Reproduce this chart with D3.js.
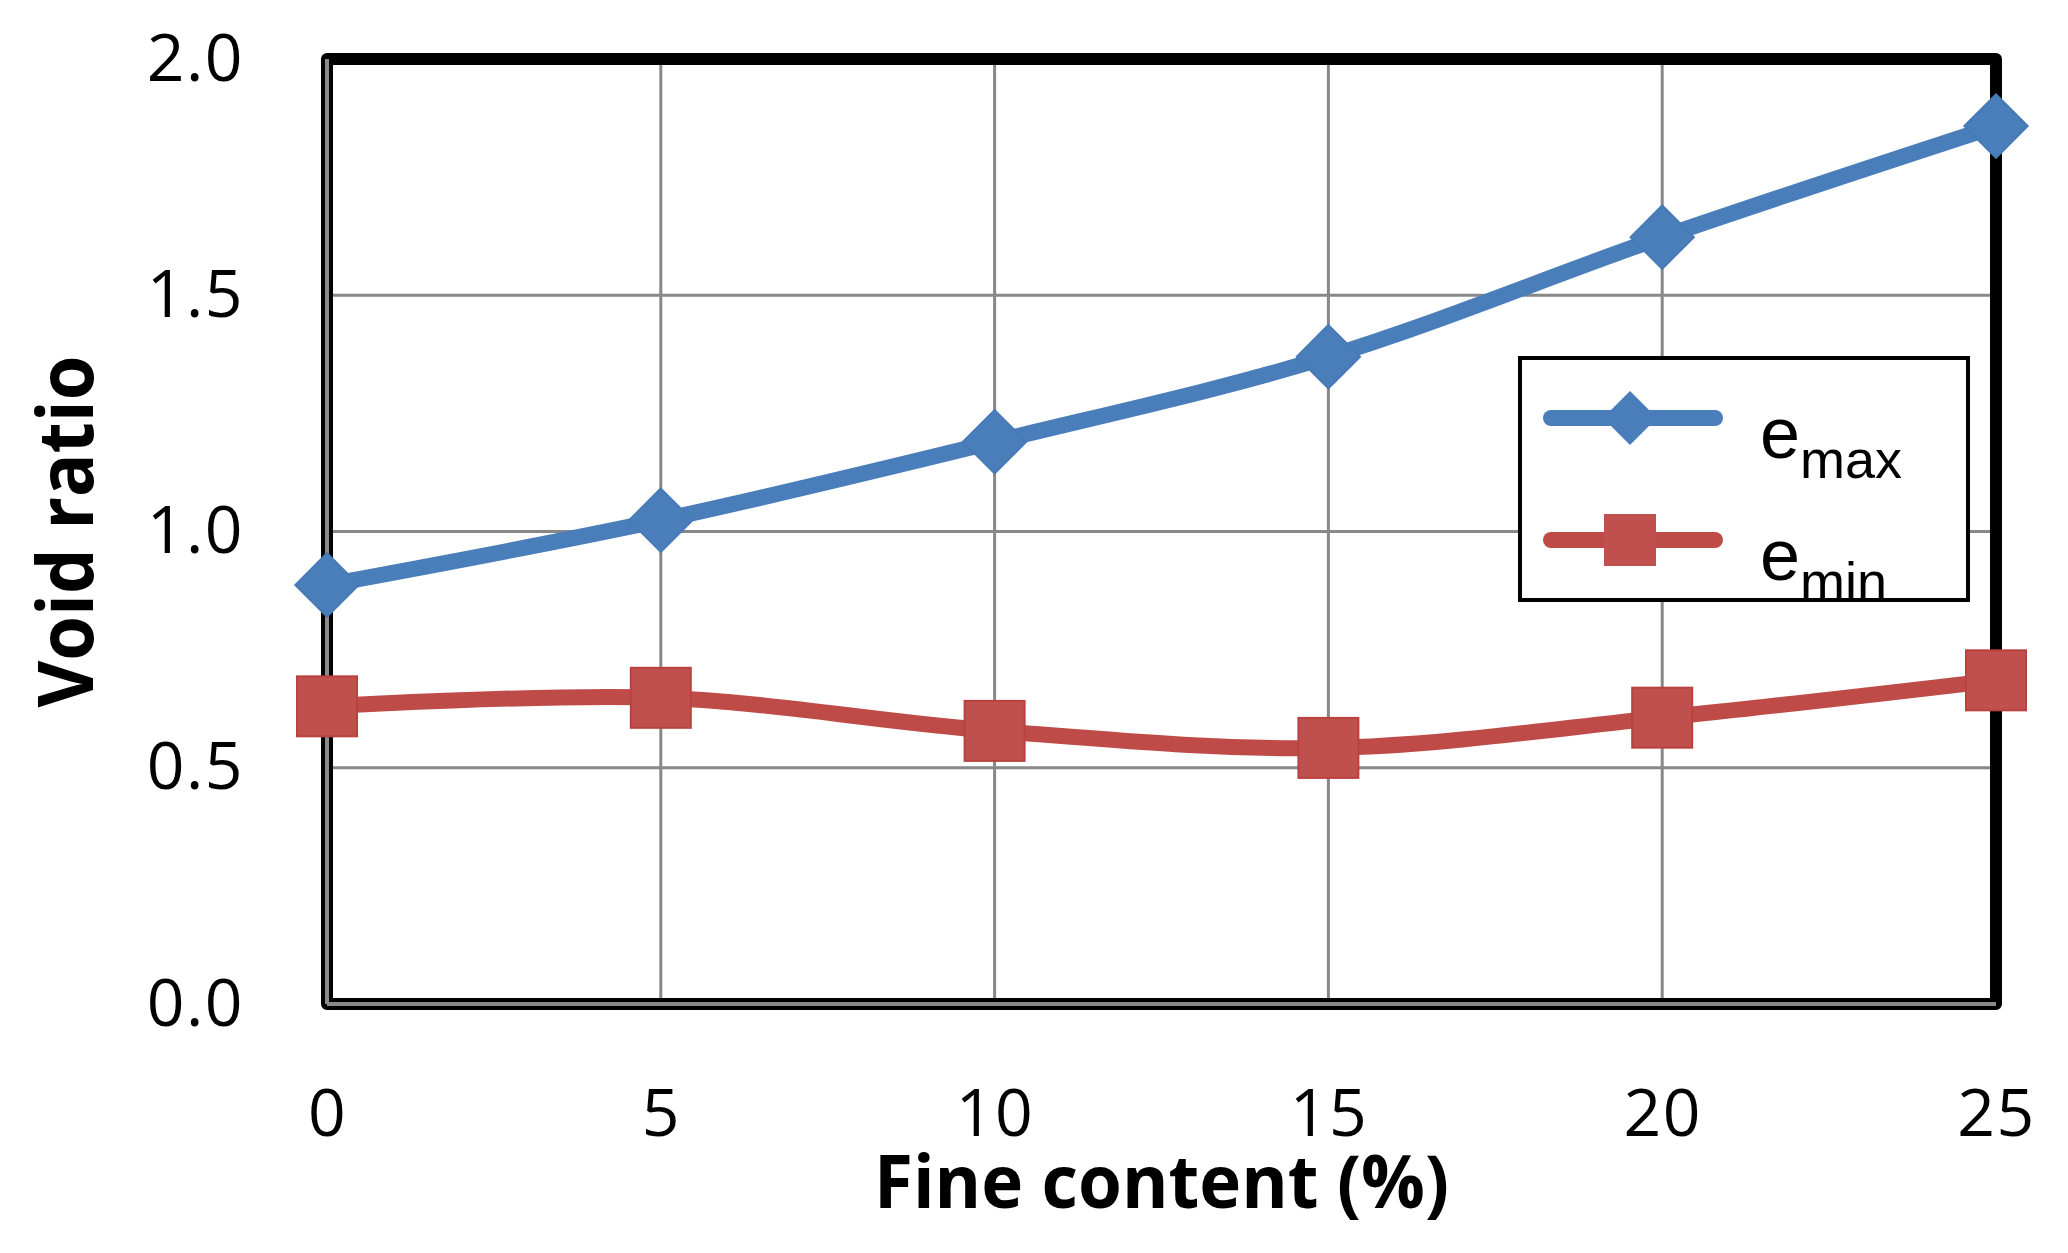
<!DOCTYPE html>
<html lang="en">
<head>
<meta charset="utf-8">
<title>Void ratio vs fine content</title>
<script src="https://cdn.jsdelivr.net/npm/d3@7"></script>
<style>
  body { margin: 0; background: #fff; }
  .tick text { font-family: "Open Sans", sans-serif; font-size: 66px; letter-spacing: 1.5px; fill: #000; }
</style>
</head>
<body>
<script>

// data
var fineContent = [0, 5, 10, 15, 20, 25];
var eMax = [0.887, 1.024, 1.19, 1.37, 1.623, 1.858];
var eMin = [0.63, 0.648, 0.578, 0.542, 0.606, 0.685];
var xTicks = [0, 5, 10, 15, 20, 25];
var yTicks = [0, 0.5, 1.0, 1.5, 2.0];
var seriesNames = ["max", "min"];

var W = 2068, H = 1253;
var margin = {top: 59, right: 72, bottom: 249, left: 327};
var width = W - margin.left - margin.right,
    height = H - margin.top - margin.bottom;

var blue = "#4a7ebb", red = "#be4b48";

var svg = d3.select("body").append("svg")
    .attr("width", W)
    .attr("height", H);

var g = svg.append("g")
    .attr("transform", "translate(" + margin.left + "," + margin.top + ")");

var x = d3.scaleLinear().domain([0, 25]).range([0, width]);
var y = d3.scaleLinear().domain([0, 2]).range([height, 0]);

// gridlines
g.append("g").selectAll("line.vg")
    .data(xTicks)
    .enter().append("line")
    .attr("x1", function(d) { return x(d); })
    .attr("x2", function(d) { return x(d); })
    .attr("y1", 0).attr("y2", height)
    .attr("stroke", "#888").attr("stroke-width", 3);

g.append("g").selectAll("line.hg")
    .data(yTicks)
    .enter().append("line")
    .attr("x1", 0).attr("x2", width)
    .attr("y1", function(d) { return y(d); })
    .attr("y2", function(d) { return y(d); })
    .attr("stroke", "#888").attr("stroke-width", 3);

// frame
g.append("rect")
    .attr("x", 0).attr("y", 0)
    .attr("width", width).attr("height", height)
    .attr("fill", "none")
    .attr("stroke", "#000")
    .attr("stroke-width", 12)
    .attr("stroke-linejoin", "round");

// the grey axis lines sitting inside the black frame
g.append("line")
    .attr("x1", 0).attr("x2", 0).attr("y1", 0).attr("y2", height)
    .attr("stroke", "#8a8a8a").attr("stroke-width", 4);
g.append("line")
    .attr("x1", 0).attr("x2", width).attr("y1", height).attr("y2", height)
    .attr("stroke", "#8a8a8a").attr("stroke-width", 4);

// axes
var xAxis = d3.axisBottom(x).tickValues(xTicks).tickSize(0).tickPadding(85)
    .tickFormat(d3.format("d"));
var yAxis = d3.axisLeft(y).tickValues(yTicks).tickSize(0).tickPadding(83)
    .tickFormat(d3.format(".1f"));

g.append("g")
    .attr("transform", "translate(0," + height + ")")
    .call(xAxis)
    .call(function(s) { s.select(".domain").remove(); });

g.append("g")
    .call(yAxis)
    .call(function(s) { s.select(".domain").remove(); });

// axis titles
svg.append("text")
    .attr("x", margin.left + width / 2)
    .attr("y", 1208)
    .attr("text-anchor", "middle")
    .attr("font-family", "'Open Sans', sans-serif")
    .attr("font-weight", "bold")
    .attr("font-size", 74)
    .attr("textLength", 575)
    .attr("lengthAdjust", "spacingAndGlyphs")
    .text("Fine content (%)");

svg.append("text")
    .attr("transform", "translate(93," + (margin.top + height / 2) + ") rotate(-90)")
    .attr("text-anchor", "middle")
    .attr("font-family", "'Open Sans', sans-serif")
    .attr("font-weight", "bold")
    .attr("font-size", 77)
    .attr("textLength", 352)
    .attr("lengthAdjust", "spacingAndGlyphs")
    .text("Void ratio");

// lines
var line = d3.line()
    .x(function(d) { return x(d[0]); })
    .y(function(d) { return y(d[1]); })
    .curve(d3.curveCardinal.tension(0));

var maxPts = d3.zip(fineContent, eMax);
var minPts = d3.zip(fineContent, eMin);

g.append("path")
    .datum(maxPts)
    .attr("d", line)
    .attr("fill", "none")
    .attr("stroke", blue)
    .attr("stroke-width", 16)
    .attr("stroke-linejoin", "round");

g.append("path")
    .datum(minPts)
    .attr("d", line)
    .attr("fill", "none")
    .attr("stroke", red)
    .attr("stroke-width", 16)
    .attr("stroke-linejoin", "round");

// markers
var diamond = function(cx, cy, r) {
    return "M" + cx + "," + (cy - r) + "L" + (cx + r) + "," + cy +
           "L" + cx + "," + (cy + r) + "L" + (cx - r) + "," + cy + "Z";
};

g.append("g").selectAll("path")
    .data(maxPts)
    .enter().append("path")
    .attr("d", function(d) { return diamond(x(d[0]), y(d[1]), 32); })
    .attr("fill", blue)
    .attr("stroke", "#4579b6")
    .attr("stroke-width", 1.5);

g.append("g").selectAll("rect")
    .data(minPts)
    .enter().append("rect")
    .attr("x", function(d) { return x(d[0]) - 30; })
    .attr("y", function(d) { return y(d[1]) - 30; })
    .attr("width", 60).attr("height", 60)
    .attr("fill", "#c0504d")
    .attr("stroke", "#b9413e")
    .attr("stroke-width", 2);

// legend
var legend = svg.append("g");
legend.append("rect")
    .attr("x", 1520).attr("y", 358)
    .attr("width", 448).attr("height", 242)
    .attr("fill", "#fff")
    .attr("stroke", "#000")
    .attr("stroke-width", 4);

var legendRows = [
    {name: seriesNames[0], color: blue, y: 418, shape: "diamond"},
    {name: seriesNames[1], color: red, y: 540, shape: "square"}
];

legendRows.forEach(function(r) {
    legend.append("line")
        .attr("x1", 1551).attr("x2", 1715)
        .attr("y1", r.y).attr("y2", r.y)
        .attr("stroke", r.color)
        .attr("stroke-width", 16)
        .attr("stroke-linecap", "round");
    if (r.shape === "diamond") {
        legend.append("path")
            .attr("d", diamond(1630, r.y, 27))
            .attr("fill", r.color);
    } else {
        legend.append("rect")
            .attr("x", 1604).attr("y", r.y - 26)
            .attr("width", 52).attr("height", 52)
            .attr("fill", "#c0504d");
    }
    var t = legend.append("text")
        .attr("x", 1760)
        .attr("y", r.y + 40)
        .attr("font-family", "'Liberation Sans', Arial, sans-serif")
        .attr("font-size", 72)
        .text("e");
    t.append("tspan")
        .attr("dy", 20)
        .attr("font-size", 54)
        .text(r.name);
});

</script>
</body>
</html>
